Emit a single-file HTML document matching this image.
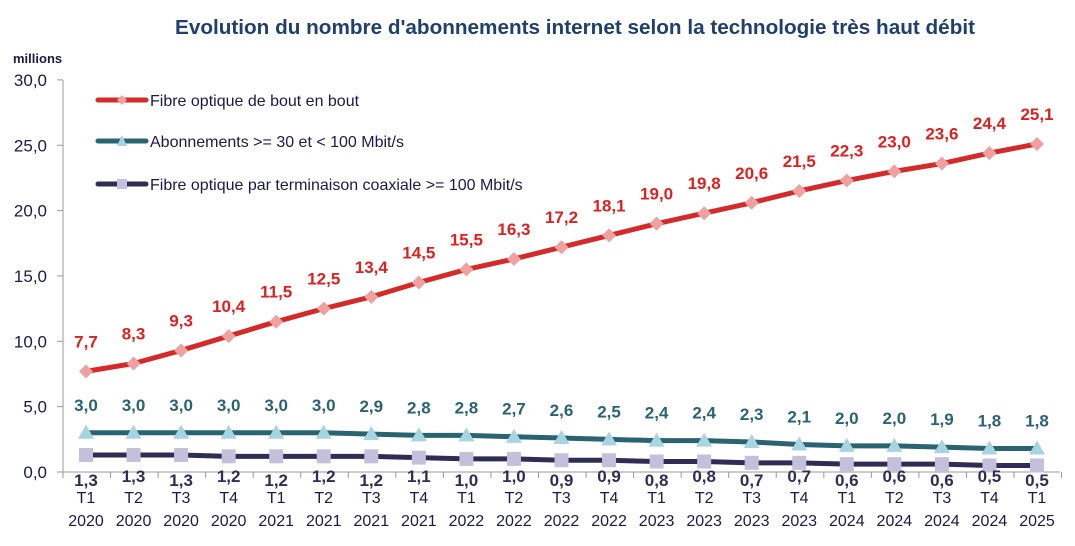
<!DOCTYPE html>
<html><head><meta charset="utf-8"><style>
html,body{margin:0;padding:0;background:#fff;}
svg{display:block;font-family:"Liberation Sans",sans-serif;}
</style></head><body>
<svg id="c" width="1075" height="546" xmlns="http://www.w3.org/2000/svg">
<text x="575" y="34" text-anchor="middle" font-size="20" font-weight="bold" fill="#1f3f6e" textLength="800" lengthAdjust="spacingAndGlyphs">Evolution du nombre d'abonnements internet selon la technologie très haut débit</text>
<text x="13" y="63" font-size="13" font-weight="bold" fill="#1a1a4a">millions</text>
</svg>
<script>
var s=document.getElementById('c'),h='';
function Y(v){return 472-v*13.07;}
function X(i){return 86+i*47.55;}
h+='<line x1="63" y1="80" x2="63" y2="472" stroke="#999" stroke-width="1"/>';
h+='<line x1="57" y1="472" x2="1060" y2="472" stroke="#999" stroke-width="1"/>';
for(var v=0;v<=30;v+=5){var y=Y(v);h+='<line x1="57" y1="'+y+'" x2="63" y2="'+y+'" stroke="#999"/>';
h+='<text x="47" y="'+(y+6)+'" text-anchor="end" font-size="17" fill="#1a1a4a">'+v.toFixed(1).replace('.',',')+'</text>';}
for(var i=0;i<=21;i++){var x=63+i*47.55;h+='<line x1="'+x+'" y1="472" x2="'+x+'" y2="478" stroke="#999"/>';}
var q=['T1','T2','T3','T4'];
for(var i=0;i<21;i++){var x=X(i);h+='<text x="'+x+'" y="503" text-anchor="middle" font-size="16" fill="#1a1a4a">'+q[i%4]+'</text>';
h+='<text x="'+x+'" y="526" text-anchor="middle" font-size="16" fill="#1a1a4a">'+(2020+Math.floor(i/4))+'</text>';}
var A=[7.7,8.3,9.3,10.4,11.5,12.5,13.4,14.5,15.5,16.3,17.2,18.1,19.0,19.8,20.6,21.5,22.3,23.0,23.6,24.4,25.1];
var B=[3.0,3.0,3.0,3.0,3.0,3.0,2.9,2.8,2.8,2.7,2.6,2.5,2.4,2.4,2.3,2.1,2.0,2.0,1.9,1.8,1.8];
var C=[1.3,1.3,1.3,1.2,1.2,1.2,1.2,1.1,1.0,1.0,0.9,0.9,0.8,0.8,0.7,0.7,0.6,0.6,0.6,0.5,0.5];
function line(d,c){var p=d.map(function(v,i){return X(i)+','+Y(v)}).join(' ');return '<polyline points="'+p+'" fill="none" stroke="'+c+'" stroke-width="5" stroke-linejoin="round"/>';}
function f(v){return v.toFixed(1).replace('.',',');}
h+=line(C,'#2f2d55');h+=line(B,'#2a6372');h+=line(A,'#d42a2a');
for(var i=0;i<21;i++){var x=X(i);
var y=Y(C[i]);h+='<rect x="'+(x-7)+'" y="'+(y-7)+'" width="14" height="14" fill="#c4c0dc"/>';
h+='<text x="'+x+'" y="'+(i%2?482:486)+'" text-anchor="middle" font-size="17" font-weight="bold" fill="#2f2d55">'+f(C[i])+'</text>';
y=Y(B[i]);h+='<polygon points="'+x+','+(y-8)+' '+(x-8)+','+(y+6)+' '+(x+8)+','+(y+6)+'" fill="#a6d4e0"/>';
h+='<text x="'+x+'" y="'+(Y(B[i])-22)+'" text-anchor="middle" font-size="17" font-weight="bold" fill="#2a6372">'+f(B[i])+'</text>';
y=Y(A[i]);h+='<polygon points="'+x+','+(y-7)+' '+(x+7)+','+y+' '+x+','+(y+7)+' '+(x-7)+','+y+'" fill="#f0a0a0"/>';
h+='<text x="'+x+'" y="'+(y-24)+'" text-anchor="middle" font-size="17" font-weight="bold" fill="#e02020">'+f(A[i])+'</text>';}
var L=[['Fibre optique de bout en bout','#d42a2a',100],['Abonnements >= 30 et < 100 Mbit/s','#2a6372',141],['Fibre optique par terminaison coaxiale >= 100 Mbit/s','#2f2d55',184]];
L.forEach(function(l,k){h+='<line x1="98" y1="'+l[2]+'" x2="146" y2="'+l[2]+'" stroke="'+l[1]+'" stroke-width="5" stroke-linecap="round"/>';
var x=122,y=l[2];
if(k==0)h+='<polygon points="'+x+','+(y-5)+' '+(x+5)+','+y+' '+x+','+(y+5)+' '+(x-5)+','+y+'" fill="#f0a0a0"/>';
if(k==1)h+='<polygon points="'+x+','+(y-6)+' '+(x-5)+','+(y+5)+' '+(x+5)+','+(y+5)+'" fill="#a6d4e0"/>';
if(k==2)h+='<rect x="'+(x-5)+'" y="'+(y-5)+'" width="10" height="10" fill="#c4c0dc"/>';
h+='<text x="150" y="'+(y+6)+'" font-size="16" fill="#1a1a4a">'+l[0].replace(/</g,'&lt;').replace(/>/g,'&gt;')+'</text>';});
s.insertAdjacentHTML('beforeend',h);
</script>
</body></html>
